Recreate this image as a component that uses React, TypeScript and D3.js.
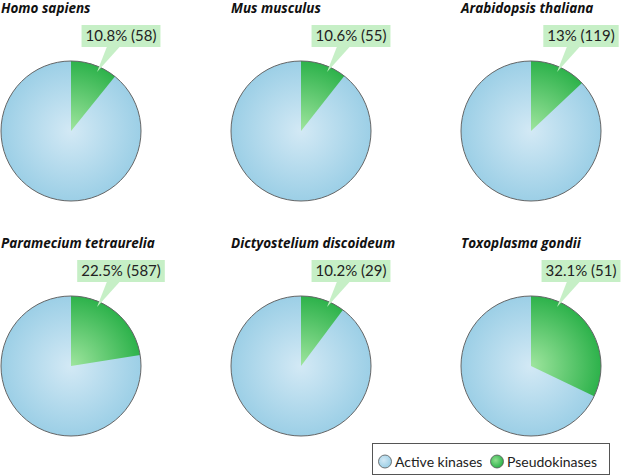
import { useMemo } from "react";
import { pie, arc, scalePoint } from "d3";

const species = [
  "Homo sapiens",
  "Mus musculus",
  "Arabidopsis thaliana",
  "Paramecium tetraurelia",
  "Dictyostelium discoideum",
  "Toxoplasma gondii",
];
const pseudoPct = [10.8, 10.6, 13, 22.5, 10.2, 32.1];
const pseudoCount = [58, 55, 119, 587, 29, 51];
const legendLabels = ["Active kinases", "Pseudokinases"];

const width = 622;
const height = 476;
const radius = 70;
const labelFont = "15px Lato, 'Open Sans', sans-serif";
const legendFont = "14px Lato, 'Open Sans', sans-serif";

const measure = (txt: string) => {
  const ctx = document.createElement("canvas").getContext("2d");
  if (!ctx) return txt.length * 7;
  ctx.font = labelFont;
  return ctx.measureText(txt).width;
};

export default function App() {
  const xScale = scalePoint<number>().domain([0, 1, 2]).range([71, 531]);
  const yScale = scalePoint<number>().domain([0, 1]).range([131, 366]);

  const pieGen = pie<number>().sort(null);
  const arcGen = arc<any>().innerRadius(0).outerRadius(radius);

  const labels = pseudoPct.map((p, i) => `${p}% (${pseudoCount[i]})`);
  const widths = useMemo(() => labels.map(measure), []);

  return (
    <svg
      width={width}
      height={height}
      style={{ position: "absolute", left: 0, top: 0, background: "#fff" }}
    >
      <defs>
        <radialGradient id="blueGrad" cx="50%" cy="50%" r="50%">
          <stop offset="0%" stopColor="#d3e9f5" />
          <stop offset="100%" stopColor="#9ccfe6" />
        </radialGradient>
        <radialGradient
          id="greenGrad"
          gradientUnits="userSpaceOnUse"
          cx={0}
          cy={0}
          r={radius}
        >
          <stop offset="0%" stopColor="#9fe59e" />
          <stop offset="100%" stopColor="#2db24b" />
        </radialGradient>
        <radialGradient id="legBlue" cx="40%" cy="40%" r="60%">
          <stop offset="0%" stopColor="#d3e9f5" />
          <stop offset="100%" stopColor="#9ccfe6" />
        </radialGradient>
        <radialGradient id="legGreen" cx="40%" cy="40%" r="60%">
          <stop offset="0%" stopColor="#8fdf8f" />
          <stop offset="100%" stopColor="#2db24b" />
        </radialGradient>
      </defs>

      {species.map((name, i) => {
        const cx = xScale(i % 3) ?? 0;
        const cy = yScale(Math.floor(i / 3)) ?? 0;
        const slices = pieGen([pseudoPct[i], 100 - pseudoPct[i]]);
        const boxW = widths[i] + 8;
        const boxCx = cx + 50;
        return (
          <g key={name}>
            <text
              x={cx - radius}
              y={cy - 118}
              fontFamily="'Open Sans', Lato, sans-serif"
              fontWeight="bold"
              fontStyle="italic"
              fontSize={13.5}
              fill="#111"
            >
              {name}
            </text>
            <g transform={`translate(${cx},${cy})`}>
              <circle r={radius} fill="url(#blueGrad)" />
              <path d={arcGen(slices[0]) ?? ""} fill="url(#greenGrad)" />
              <circle r={radius} fill="none" stroke="#666" strokeWidth={1} />
            </g>
            <rect
              x={boxCx - boxW / 2}
              y={cy - 106}
              width={boxW}
              height={22}
              fill="#c6efc6"
            />
            <polygon
              points={`${cx + 36},${cy - 84.5} ${cx + 49},${cy - 84.5} ${cx + 26},${cy - 59}`}
              fill="#c6efc6"
            />
            <text
              x={boxCx}
              y={cy - 90}
              textAnchor="middle"
              style={{ font: labelFont }}
              fill="#222"
            >
              {labels[i]}
            </text>
          </g>
        );
      })}

      <g>
        <rect
          x={372.5}
          y={443.5}
          width={237}
          height={31}
          fill="#fff"
          stroke="#555"
        />
        <circle cx={385} cy={461.5} r={6.5} fill="url(#legBlue)" stroke="#555" strokeWidth={0.8} />
        <text x={395} y={466.5} style={{ font: legendFont }} fill="#222">
          {legendLabels[0]}
        </text>
        <circle cx={497} cy={461.5} r={6.5} fill="url(#legGreen)" stroke="#555" strokeWidth={0.8} />
        <text x={507} y={466.5} style={{ font: legendFont }} fill="#222">
          {legendLabels[1]}
        </text>
      </g>
    </svg>
  );
}
